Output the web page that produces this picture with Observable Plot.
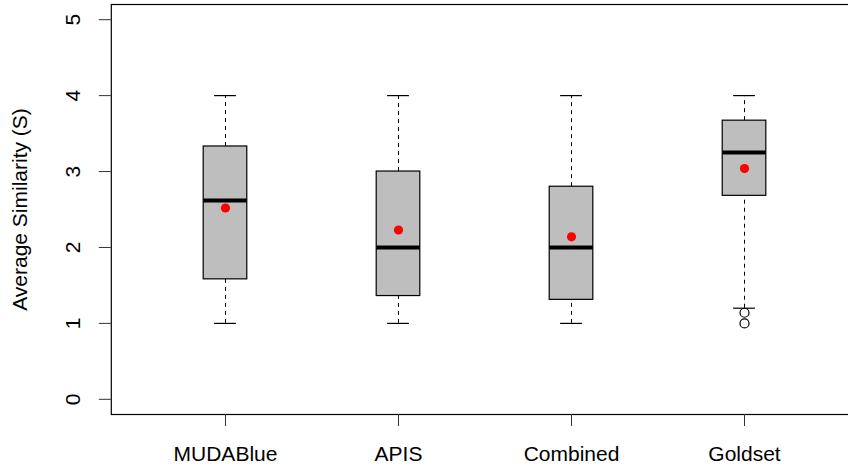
<!DOCTYPE html>
<html>
<head>
<meta charset="utf-8">
<script src="https://cdn.jsdelivr.net/npm/d3@7"></script>
<script src="https://cdn.jsdelivr.net/npm/@observablehq/plot@0.6"></script>
<style>
  html, body { margin: 0; padding: 0; background: white; overflow: hidden; }
  #chart svg { overflow: hidden; display: block; }
</style>
</head>
<body>
<div id="chart"></div>
<script>
const categories = ["MUDABlue", "APIS", "Combined", "Goldset"];
const positions  = [1, 2, 3, 4];
const whiskerLow  = [1.0, 1.0, 1.0, 1.2];
const q1          = [1.58, 1.36, 1.31, 2.68];
const medians     = [2.62, 2.0, 2.0, 3.25];
const q3          = [3.33, 3.0, 2.80, 3.67];
const whiskerHigh = [4.0, 4.0, 4.0, 4.0];
const means       = [2.52, 2.23, 2.14, 3.04];
const outlierGroup  = [4, 4];
const outlierValues = [1.14, 1.0];
const yTicks = [0, 1, 2, 3, 4, 5];
const yLabel = "Average Similarity (S)";

const boxes = categories.map((c, i) => ({
  name: c, pos: positions[i], lo: whiskerLow[i], q1: q1[i], med: medians[i],
  q3: q3[i], hi: whiskerHigh[i], mean: means[i]
}));
const outliers = outlierValues.map((v, i) => ({pos: outlierGroup[i], v}));

const hw = 0.126;   // box half width (x units)
const cw = 0.063;   // staple half width
const font = "'Liberation Sans', Arial, Helvetica, sans-serif";

const chart = Plot.plot({
  width: 848,
  height: 467,
  marginLeft: 110.8,
  marginRight: -10.2,
  marginTop: 4,
  marginBottom: 53,
  style: {fontFamily: font, fontSize: "21px", background: "white", color: "black"},
  x: {domain: [0.34, 4.66], axis: null},
  y: {domain: [-0.2, 5.2], axis: null},
  marks: [
    // whiskers
    Plot.ruleX(boxes, {x: "pos", y1: "q3", y2: "hi", stroke: "black", strokeDasharray: "4,4", strokeWidth: 1}),
    Plot.ruleX(boxes, {x: "pos", y1: "lo", y2: "q1", stroke: "black", strokeDasharray: "4,4", strokeWidth: 1}),
    // staples
    Plot.ruleY(boxes, {y: "hi", x1: d => d.pos - cw, x2: d => d.pos + cw, stroke: "black", strokeWidth: 1.2}),
    Plot.ruleY(boxes, {y: "lo", x1: d => d.pos - cw, x2: d => d.pos + cw, stroke: "black", strokeWidth: 1.2}),
    // boxes
    Plot.rect(boxes, {x1: d => d.pos - hw, x2: d => d.pos + hw, y1: "q1", y2: "q3", fill: "#bebebe", stroke: "black", strokeWidth: 1.2}),
    // medians
    Plot.ruleY(boxes, {y: "med", x1: d => d.pos - hw, x2: d => d.pos + hw, stroke: "black", strokeWidth: 4}),
    // outliers
    Plot.dot(outliers, {x: "pos", y: "v", r: 4.5, fill: "none", stroke: "black", strokeWidth: 1.2}),
    // means
    Plot.dot(boxes, {x: "pos", y: "mean", r: 4.6, fill: "red", stroke: "none"}),
    // frame
    Plot.frame({stroke: "black", strokeWidth: 1.2}),
    // y axis
    Plot.axisY({ticks: yTicks, tickSize: 12, text: null, label: null, stroke: "#333"}),
    Plot.text(yTicks, {y: d => d, frameAnchor: "left", dx: -38, rotate: -90, text: d => String(d), textAnchor: "middle", lineAnchor: "middle", fontSize: 21, fill: "black"}),
    Plot.text([yLabel], {frameAnchor: "left", dx: -91, rotate: -90, text: d => d, textAnchor: "middle", lineAnchor: "middle", fontSize: 21, fill: "black"}),
    // x axis
    Plot.axisX({ticks: positions, tickSize: 12, text: null, label: null, stroke: "#333"}),
    Plot.text(boxes, {x: "pos", frameAnchor: "bottom", dy: 40, text: "name", textAnchor: "middle", lineAnchor: "middle", fontSize: 21, fill: "black"})
  ]
});
document.getElementById("chart").appendChild(chart);
</script>
</body>
</html>
